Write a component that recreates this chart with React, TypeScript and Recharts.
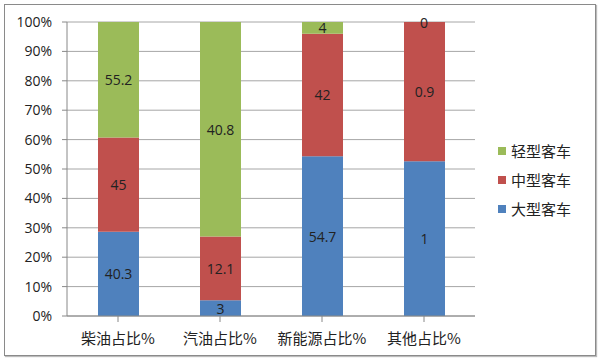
import { BarChart, Bar, XAxis, YAxis, CartesianGrid, LabelList, ReferenceDot } from 'recharts'

const categories = ['柴油占比%', '汽油占比%', '新能源占比%', '其他占比%']
const largeBus = [40.3, 3, 54.7, 1]
const mediumBus = [45, 12.1, 42, 0.9]
const lightBus = [55.2, 40.8, 4, 0]
const yTicks = [0, 0.1, 0.2, 0.3, 0.4, 0.5, 0.6, 0.7, 0.8, 0.9, 1]

const series = [
  { key: 'large', name: '大型客车', color: '#4F81BD' },
  { key: 'medium', name: '中型客车', color: '#C0504D' },
  { key: 'light', name: '轻型客车', color: '#9BBB59' },
]

const data = categories.map((c, i) => ({
  name: c,
  large: largeBus[i],
  medium: mediumBus[i],
  light: lightBus[i],
}))

const numFont = '"Open Sans", "Noto Sans", sans-serif'
const cjkFont = '"Noto Sans CJK SC", sans-serif'

function SegLabel(props: any) {
  const { x, y, width, height, value } = props
  if (value == null) return null
  return (
    <text
      x={Number(x) + Number(width) / 2}
      y={Number(y) + Number(height) / 2}
      textAnchor="middle"
      dominantBaseline="central"
      fill="#222"
      style={{ fontSize: 14, fontFamily: numFont }}
    >
      {value}
    </text>
  )
}

// zero-height top segments get no LabelList entry, so put their label on the 100% line
function ZeroLabel(props: any) {
  const { viewBox, value } = props
  if (!viewBox) return null
  return (
    <text
      x={viewBox.x + (viewBox.width || 0) / 2}
      y={viewBox.y + (viewBox.height || 0) / 2}
      textAnchor="middle"
      dominantBaseline="central"
      fill="#222"
      style={{ fontSize: 14, fontFamily: numFont }}
    >
      {value}
    </text>
  )
}

function LegendBox() {
  const items = [...series].reverse()
  return (
    <div style={{ position: 'absolute', left: 498, top: 136, fontFamily: cjkFont, fontSize: 15, color: '#222' }}>
      {items.map(s => (
        <div key={s.key} style={{ display: 'flex', alignItems: 'center', height: 29 }}>
          <span style={{ width: 8, height: 8, background: s.color, marginRight: 5, display: 'inline-block' }} />
          <span>{s.name}</span>
        </div>
      ))}
    </div>
  )
}

export default function App() {
  const zeroTops = categories.filter((_, i) => lightBus[i] === 0)
  return (
    <div style={{ position: 'absolute', left: 0, top: 0, width: 600, height: 361, background: '#fff' }}>
      <div
        style={{
          position: 'absolute',
          left: 4,
          top: 4,
          width: 590,
          height: 350,
          border: '1px solid #8a8a8a',
          boxShadow: '1px 1px 1px #bbb',
        }}
      />
      <BarChart
        width={600}
        height={361}
        data={data}
        stackOffset="expand"
        barSize={41}
        margin={{ top: 22, right: 125, bottom: 0, left: 0 }}
        style={{ position: 'absolute', left: 0, top: 0 }}
      >
        <CartesianGrid vertical={false} stroke="#a6a6a6" />
        <XAxis
          dataKey="name"
          height={45}
          tickLine={{ stroke: '#888' }}
          axisLine={{ stroke: '#888' }}
          tick={{ fill: '#222', fontSize: 15, fontFamily: cjkFont }}
          tickMargin={11}
          interval={0}
        />
        <YAxis
          width={67}
          ticks={yTicks}
          domain={[0, 1]}
          tickFormatter={(v: number) => `${Math.round(v * 100)}%`}
          tickLine={{ stroke: '#888' }}
          axisLine={{ stroke: '#888' }}
          tick={{ fill: '#222', fontSize: 14, fontFamily: numFont }}
          tickSize={5}
          tickMargin={10}
        />
        {series.map(s => (
          <Bar key={s.key} dataKey={s.key} name={s.name} stackId="a" fill={s.color} isAnimationActive={false}>
            <LabelList dataKey={s.key} content={<SegLabel />} />
          </Bar>
        ))}
        {zeroTops.map(c => (
          <ReferenceDot
            key={c}
            x={c}
            y={1}
            r={0}
            fill="none"
            stroke="none"
            ifOverflow="visible"
            label={<ZeroLabel value={0} />}
          />
        ))}
      </BarChart>
      <LegendBox />
    </div>
  )
}
